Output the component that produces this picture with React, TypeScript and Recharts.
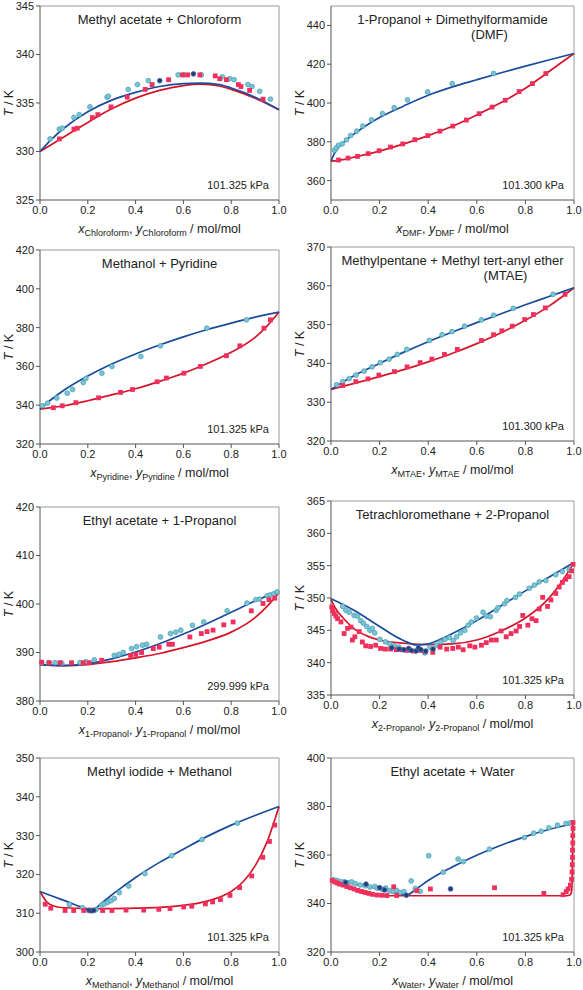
import { ComposedChart, Line, ReferenceLine, Scatter, XAxis, YAxis } from "recharts";

type Pt = [number, number];

const FONT = '"Liberation Sans", Arial, Helvetica, sans-serif';
const BLUE = "#1a4c9c";
const RED = "#d3162a";
const CYAN = "#7cc4d4";
const CYAN_EDGE = "#4aa3b8";
const PINK = "#f0305c";
const NAVY = "#1f3c7a";

const xTicks = [0, 0.2, 0.4, 0.6, 0.8, 1];

// Methyl acetate + Chloroform
const p1Dew: Pt[] = [[0, 330.0], [0.05, 331.3], [0.1, 332.4], [0.2, 334.1], [0.3, 335.3], [0.4, 336.1], [0.5, 336.7], [0.6, 337.0], [0.67, 337.05], [0.75, 336.9], [0.8, 336.55], [0.9, 335.6], [1, 334.3]];
const p1Bub: Pt[] = [[0, 330.0], [0.1, 331.5], [0.2, 333.0], [0.3, 334.4], [0.4, 335.5], [0.5, 336.3], [0.6, 336.8], [0.67, 336.95], [0.75, 336.75], [0.8, 336.4], [0.9, 335.5], [1, 334.3]];
const p1Vap: Pt[] = [[0.042, 331.3], [0.081, 332.3], [0.093, 332.4], [0.142, 333.5], [0.164, 333.8], [0.209, 334.6], [0.281, 335.6], [0.286, 335.7], [0.369, 336.4], [0.408, 336.9], [0.453, 337.3], [0.578, 337.9], [0.602, 337.9], [0.675, 337.9], [0.763, 337.7], [0.794, 337.5], [0.812, 337.4], [0.87, 336.9], [0.887, 336.7], [0.919, 336.2], [0.964, 335.4]];
const p1Liq: Pt[] = [[0.081, 331.3], [0.142, 332.3], [0.156, 332.4], [0.219, 333.5], [0.242, 333.8], [0.297, 334.6], [0.365, 335.6], [0.44, 336.4], [0.469, 336.9], [0.538, 337.4], [0.596, 337.9], [0.618, 337.9], [0.669, 337.9], [0.733, 337.8], [0.752, 337.5], [0.78, 337.4], [0.83, 336.9], [0.841, 336.7], [0.877, 336.3], [0.933, 335.4]];
const p1Navy: Pt[] = [[0.501, 337.3], [0.642, 338.0]];

// 1-Propanol + DMF
const p2Dew: Pt[] = [[0, 370], [0.01, 373], [0.03, 377], [0.05, 379.5], [0.1, 384.5], [0.15, 388.8], [0.2, 392.5], [0.3, 398.5], [0.4, 404], [0.5, 408.3], [0.6, 412], [0.7, 415.6], [0.8, 419], [0.9, 422.3], [1, 425.5]];
const p2Bub: Pt[] = [[0, 370], [0.05, 370.8], [0.1, 372.2], [0.2, 375.2], [0.3, 378.9], [0.4, 383.2], [0.5, 388], [0.6, 393.8], [0.7, 400.2], [0.8, 407.6], [0.9, 416.5], [1, 425.5]];
const p2Vap: Pt[] = [[0.014, 375.6], [0.022, 376.8], [0.031, 378.2], [0.046, 378.9], [0.064, 381], [0.081, 383.2], [0.106, 385.5], [0.131, 388.1], [0.167, 391.3], [0.212, 394.5], [0.26, 397.6], [0.315, 401.6], [0.398, 405.7], [0.499, 410], [0.669, 415.2]];
const p2Liq: Pt[] = [[0.031, 370.6], [0.07, 371.6], [0.109, 372.5], [0.153, 373.9], [0.198, 375.4], [0.245, 377.3], [0.295, 378.9], [0.345, 381.1], [0.398, 383.2], [0.448, 385.5], [0.501, 388.1], [0.557, 391.2], [0.61, 394.5], [0.663, 397.9], [0.717, 401.4], [0.774, 405.9], [0.829, 410], [0.884, 415.2]];

// Methanol + Pyridine
const p3Dew: Pt[] = [[0, 338], [0.05, 343.2], [0.1, 347.7], [0.2, 355], [0.3, 361.2], [0.4, 366.4], [0.5, 371], [0.6, 375.2], [0.7, 379], [0.8, 382.3], [0.9, 385.4], [1, 388]];
const p3Bub: Pt[] = [[0, 338], [0.1, 339.7], [0.2, 342.3], [0.3, 345.3], [0.4, 348.5], [0.5, 352.3], [0.6, 356.5], [0.7, 361.5], [0.8, 367.3], [0.9, 375], [0.95, 380.8], [1, 388]];
const p3Vap: Pt[] = [[0.011, 339.7], [0.032, 341.1], [0.07, 343.7], [0.114, 346.2], [0.136, 348.1], [0.181, 351.7], [0.192, 353.8], [0.259, 356.5], [0.301, 360], [0.422, 365.1], [0.504, 370.6], [0.698, 379.7], [0.864, 384.0]];
const p3Liq: Pt[] = [[0.056, 338.7], [0.093, 339.7], [0.15, 341.3], [0.245, 343.8], [0.337, 346.6], [0.387, 348.1], [0.49, 352.1], [0.529, 354], [0.602, 356.5], [0.671, 360], [0.78, 365.5], [0.836, 370.6], [0.937, 379.7], [0.964, 384]];

// Methylpentane + MTAE
const p4Dew: Pt[] = [[0, 333.3], [0.1, 337], [0.2, 340], [0.3, 342.9], [0.4, 345.6], [0.5, 348.1], [0.6, 350.5], [0.7, 352.8], [0.8, 355.1], [0.9, 357.3], [1, 359.5]];
const p4Bub: Pt[] = [[0, 333.3], [0.1, 334.9], [0.2, 336.6], [0.3, 338.4], [0.4, 340.4], [0.5, 342.6], [0.6, 345.1], [0.7, 347.9], [0.8, 351.1], [0.9, 354.9], [1, 359.5]];
const p4Vap: Pt[] = [[0.023, 334.5], [0.048, 335.3], [0.075, 336.1], [0.103, 337], [0.136, 338], [0.169, 339.1], [0.203, 340.2], [0.239, 341.1], [0.273, 342.3], [0.312, 343.6], [0.405, 345.9], [0.457, 347.4], [0.498, 348.2], [0.55, 349.6], [0.619, 351.2], [0.669, 352.4], [0.75, 354.2], [0.914, 357.8]];
const p4Liq: Pt[] = [[0.048, 334.3], [0.102, 335.3], [0.152, 336], [0.197, 337], [0.261, 337.9], [0.313, 339.1], [0.367, 340.2], [0.415, 341.1], [0.467, 342.3], [0.52, 343.6], [0.619, 345.9], [0.669, 347.4], [0.703, 348.4], [0.746, 349.6], [0.797, 351.3], [0.833, 352.6], [0.882, 354.3], [0.963, 357.8]];

// Ethyl acetate + 1-Propanol
const p5Dew: Pt[] = [[0, 387.5], [0.1, 387.3], [0.2, 387.7], [0.3, 388.7], [0.4, 390.1], [0.5, 391.8], [0.6, 393.8], [0.7, 396], [0.8, 398.3], [0.9, 400.6], [1, 402.7]];
const p5Bub: Pt[] = [[0, 387.5], [0.1, 387.3], [0.2, 387.5], [0.3, 388.1], [0.4, 388.9], [0.5, 389.8], [0.6, 391], [0.7, 392.4], [0.8, 394.2], [0.9, 397.2], [0.95, 399.5], [1, 402.4]];
const p5Vap: Pt[] = [[0.007, 387.9], [0.035, 387.9], [0.063, 387.9], [0.091, 387.8], [0.167, 387.9], [0.192, 388.1], [0.227, 388.5], [0.311, 389.4], [0.33, 389.6], [0.348, 390], [0.383, 390.8], [0.404, 391.2], [0.429, 391.5], [0.446, 391.7], [0.504, 393.2], [0.546, 393.9], [0.568, 394.2], [0.589, 394.6], [0.638, 395.6], [0.685, 396.3], [0.783, 398.6], [0.866, 400.2], [0.903, 400.9], [0.919, 401], [0.951, 401.7], [0.964, 401.9], [0.978, 402.1], [0.992, 402.5]];
const p5Liq: Pt[] = [[0.007, 388], [0.039, 387.9], [0.084, 387.9], [0.132, 387.9], [0.181, 387.9], [0.206, 387.9], [0.258, 388.4], [0.379, 389.4], [0.401, 389.6], [0.425, 390], [0.474, 390.8], [0.499, 391.1], [0.539, 391.7], [0.554, 391.7], [0.627, 393.2], [0.675, 393.9], [0.699, 394.3], [0.724, 394.6], [0.769, 395.7], [0.808, 396.3], [0.884, 398.6], [0.933, 400.1], [0.958, 400.9], [0.982, 401.2]];

// Tetrachloromethane + 2-Propanol
const p6Dew: Pt[] = [[0, 349.9], [0.05, 349.0], [0.1, 348.0], [0.15, 346.8], [0.2, 345.6], [0.25, 344.4], [0.3, 343.4], [0.35, 342.75], [0.4, 342.9], [0.45, 343.6], [0.5, 344.5], [0.6, 346.5], [0.7, 348.8], [0.8, 351.1], [0.9, 353.3], [1, 355.5]];
const p6Bub: Pt[] = [[0, 349.8], [0.02, 348.3], [0.05, 346.9], [0.1, 345.1], [0.15, 344.1], [0.2, 343.5], [0.3, 343.0], [0.4, 342.8], [0.5, 342.9], [0.6, 343.5], [0.7, 344.9], [0.8, 346.9], [0.9, 350.1], [0.95, 352.5], [1, 355.5]];
const p6Vap: Pt[] = [[0.048, 348.7], [0.061, 348.1], [0.075, 347.8], [0.095, 347.3], [0.109, 347.2], [0.122, 346.5], [0.133, 346.1], [0.147, 345.6], [0.16, 345], [0.17, 345.3], [0.18, 344.6], [0.201, 343.6], [0.224, 343.2], [0.242, 342.9], [0.261, 342.6], [0.279, 342.4], [0.386, 341.5], [0.408, 342.4], [0.435, 342.7], [0.452, 343.2], [0.469, 343.6], [0.487, 343.9], [0.503, 343.4], [0.517, 344], [0.533, 344.6], [0.551, 345], [0.565, 345.8], [0.578, 346.3], [0.599, 346.9], [0.626, 347.8], [0.639, 347.2], [0.656, 347.1], [0.68, 348.1], [0.687, 348.5], [0.714, 349.1], [0.724, 349.6], [0.759, 350.1], [0.776, 350.6], [0.816, 351.5], [0.837, 352], [0.857, 352.5], [0.884, 352.7], [0.925, 353.6], [0.952, 354.1], [0.98, 354.4]];
const p6Liq: Pt[] = [[0.003, 348.6], [0.007, 348], [0.014, 347.6], [0.02, 347.2], [0.027, 346.8], [0.041, 346.3], [0.054, 344.5], [0.068, 345.3], [0.082, 345.5], [0.088, 343.5], [0.098, 344], [0.116, 344.8], [0.129, 343.2], [0.143, 342.6], [0.163, 342.5], [0.184, 342.7], [0.204, 342.2], [0.224, 342.1], [0.245, 342.1], [0.269, 342], [0.293, 342], [0.313, 341.9], [0.34, 341.8], [0.367, 341.9], [0.388, 341.7], [0.419, 341.6], [0.449, 342.4], [0.476, 342.1], [0.501, 342.2], [0.524, 342.4], [0.544, 342], [0.571, 342.6], [0.592, 342.4], [0.619, 342.7], [0.639, 343.1], [0.66, 343.5], [0.68, 343.5], [0.7, 344.9], [0.721, 344], [0.741, 344.5], [0.762, 344.9], [0.776, 345.6], [0.789, 347.3], [0.81, 345.8], [0.827, 346.8], [0.844, 346.5], [0.857, 348.3], [0.871, 350.1], [0.891, 348.7], [0.905, 349.7], [0.925, 350.7], [0.939, 351.7], [0.952, 352.4], [0.966, 352.9], [0.98, 353.3], [0.99, 354.2], [0.996, 355.2]];
const p6Navy: Pt[] = [[0.25, 342.3], [0.28, 342.1], [0.3, 342.0], [0.32, 342.2], [0.33, 341.9], [0.35, 341.8], [0.36, 342.3], [0.37, 342.0], [0.39, 341.8], [0.42, 342.1]];

// Methyl iodide + Methanol
const p7Dew: Pt[] = [[0, 315.6], [0.1, 313.3], [0.2, 311.0], [0.22, 310.7], [0.25, 312.2], [0.3, 314.7], [0.35, 317], [0.4, 319.2], [0.5, 323.1], [0.6, 326.5], [0.7, 329.8], [0.8, 332.7], [0.9, 335.2], [1, 337.5]];
const p7Bub: Pt[] = [[0, 315.6], [0.03, 312.8], [0.06, 311.8], [0.1, 311.4], [0.2, 311.2], [0.3, 311.2], [0.4, 311.3], [0.5, 311.5], [0.6, 312], [0.7, 313.1], [0.75, 314.1], [0.8, 315.6], [0.85, 318.1], [0.9, 322.2], [0.95, 328.4], [1, 337.5]];
const p7Vap: Pt[] = [[0.123, 312.2], [0.178, 311.4], [0.234, 310.9], [0.258, 312.1], [0.269, 312.4], [0.283, 312.8], [0.297, 313.2], [0.311, 313.8], [0.332, 315.3], [0.371, 317.0], [0.439, 320.2], [0.551, 324.8], [0.678, 329.0], [0.826, 333.2]];
const p7Liq: Pt[] = [[0.022, 312.3], [0.045, 311.3], [0.105, 310.7], [0.141, 310.7], [0.183, 310.7], [0.262, 310.7], [0.301, 310.7], [0.36, 310.8], [0.434, 310.8], [0.497, 311], [0.544, 311.2], [0.601, 311.6], [0.635, 311.8], [0.692, 312.4], [0.722, 312.9], [0.755, 313.5], [0.795, 314.6], [0.835, 316.6], [0.886, 319.6], [0.932, 324.4], [0.96, 328.5], [0.982, 332.7]];
const p7Navy: Pt[] = [[0.205, 310.7], [0.215, 310.6], [0.225, 310.7]];

// Ethyl acetate + Water
const p8Dew: Pt[] = [[0, 350], [0.1, 348.1], [0.2, 346], [0.28, 344.2], [0.31, 343.4], [0.35, 345.9], [0.4, 349.5], [0.45, 352.5], [0.5, 355.1], [0.6, 359.9], [0.7, 364], [0.8, 367.6], [0.9, 370.6], [1, 373]];
const p8Bub: Pt[] = [[0, 349.6], [0.05, 347.3], [0.1, 345.3], [0.15, 343.8], [0.18, 343.3], [0.2, 343.2], [0.5, 343.2], [0.97, 343.2], [0.985, 343.6], [0.99, 345], [0.993, 355], [0.995, 373.5]];
const p8Vap: Pt[] = [[0.01, 349.8], [0.025, 349.5], [0.04, 349.0], [0.055, 348.9], [0.07, 348.6], [0.085, 348.9], [0.1, 348.2], [0.12, 347.6], [0.14, 347.3], [0.16, 346.8], [0.18, 347.0], [0.19, 346.3], [0.21, 345.9], [0.225, 346.4], [0.24, 345.3], [0.255, 344.9], [0.27, 345.4], [0.285, 344.5], [0.3, 344.9], [0.33, 349.3], [0.347, 346.2], [0.367, 345.0], [0.402, 359.7], [0.462, 352.9], [0.523, 358.3], [0.545, 357.3], [0.652, 362.4], [0.796, 367.2], [0.834, 369], [0.865, 369.8], [0.897, 371.2], [0.932, 372.3], [0.967, 373], [0.985, 373.2]];
const p8Liq: Pt[] = [[0.005, 349.5], [0.015, 348.9], [0.025, 348.5], [0.035, 348.0], [0.05, 347.6], [0.065, 347.0], [0.08, 346.5], [0.095, 346.0], [0.11, 345.4], [0.125, 345.0], [0.14, 344.6], [0.155, 344.2], [0.17, 343.8], [0.19, 343.5], [0.21, 343.4], [0.23, 343.3], [0.258, 346.9], [0.27, 343.3], [0.353, 345.3], [0.409, 346.0], [0.673, 346.5], [0.876, 344.2], [0.955, 343.6], [0.968, 344.9], [0.976, 346.0], [0.985, 347.6], [0.99, 350], [0.992, 353], [0.993, 356], [0.994, 359], [0.994, 362], [0.995, 365], [0.995, 368], [0.996, 371], [0.996, 373.4]];
const p8Navy: Pt[] = [[0.06, 348.7], [0.144, 348.0], [0.2, 346.5], [0.22, 345.6], [0.31, 343.4], [0.492, 346.0]];

const toRows = (pts: Pt[]) => pts.map(([x, t]) => ({ x, t }));

const circle = (fill: string, stroke: string) => (p: any) => (
  <circle cx={p.cx} cy={p.cy} r={2.4} fill={fill} stroke={stroke} strokeWidth={0.8} />
);
const square = (p: any) => <rect x={p.cx - 2.4} y={p.cy - 2.4} width={4.8} height={4.8} fill={PINK} />;

interface PanelProps {
  col: 0 | 1;
  plotTop: number;
  title: string;
  title2?: string;
  title2Dx?: number;
  sub: string;
  yDomain: [number, number];
  yTicks: number[];
  pressure: string;
  dew: Pt[];
  bubble: Pt[];
  vap: Pt[];
  liq: Pt[];
  navy?: Pt[];
}

const W = 291;
const H = 245;
const AXIS_H = 45;
const Y_W = 40;
const TOP = 6;

function Panel(props: PanelProps) {
  const left = props.col === 0 ? 0 : 291;
  const mr = props.col === 0 ? 12 : 8;
  const plotW = W - Y_W - mr;
  const plotH = H - TOP - AXIS_H;
  const cx = Y_W + plotW / 2;
  const cy = TOP + plotH / 2;
  const tick = { fontSize: 11, fill: "#222", fontFamily: FONT };

  const xLabel = () => (
    <text x={cx} y={TOP + plotH + 33} textAnchor="middle" fontSize={12.5} fill="#222" fontFamily={FONT}>
      <tspan fontStyle="italic">x</tspan>
      <tspan fontSize={9} dy={3}>{props.sub}</tspan>
      <tspan dy={-3}>, </tspan>
      <tspan fontStyle="italic">y</tspan>
      <tspan fontSize={9} dy={3}>{props.sub}</tspan>
      <tspan dy={-3}> / mol/mol</tspan>
    </text>
  );
  const yLabel = () => (
    <text x={9} y={cy} transform={`rotate(-90, 9, ${cy})`} textAnchor="middle" dominantBaseline="central" fontSize={12.5} fill="#222" fontFamily={FONT}>
      <tspan fontStyle="italic">T</tspan>
      <tspan> / K</tspan>
    </text>
  );

  return (
    <div style={{ position: "absolute", left, top: props.plotTop - TOP, width: W, height: H }}>
      <ComposedChart width={W} height={H} margin={{ top: TOP, right: mr, bottom: 0, left: 0 }}>
        <XAxis
          type="number"
          dataKey="x"
          domain={[0, 1]}
          ticks={xTicks}
          interval={0}
          tickFormatter={(v: number) => v.toFixed(1)}
          height={AXIS_H}
          stroke="#555"
          tickSize={4}
          tick={tick}
          label={{ content: xLabel }}
        />
        <YAxis
          type="number"
          dataKey="t"
          domain={props.yDomain}
          ticks={props.yTicks}
          interval={0}
          allowDataOverflow
          width={Y_W}
          stroke="#555"
          tickSize={4}
          tick={tick}
          label={{ content: yLabel }}
        />
        <ReferenceLine y={props.yDomain[1]} stroke="#9a9a9a" />
        <ReferenceLine x={1} stroke="#9a9a9a" />
        <Scatter data={toRows(props.vap)} shape={circle(CYAN, CYAN_EDGE)} isAnimationActive={false} />
        <Scatter data={toRows(props.liq)} shape={square} isAnimationActive={false} />
        {props.navy && <Scatter data={toRows(props.navy)} shape={circle(NAVY, "#4f6fa8")} isAnimationActive={false} />}
        <Line data={toRows(props.bubble)} dataKey="t" type="monotone" stroke={RED} strokeWidth={1.7} dot={false} isAnimationActive={false} />
        <Line data={toRows(props.dew)} dataKey="t" type="monotone" stroke={BLUE} strokeWidth={1.7} dot={false} isAnimationActive={false} />
      </ComposedChart>
      <svg width={W} height={H} style={{ position: "absolute", left: 0, top: 0, pointerEvents: "none" }}>
        <text x={cx} y={TOP + 18} textAnchor="middle" fontSize={13} fill="#222" fontFamily={FONT}>
          {props.title}
        </text>
        {props.title2 && (
          <text x={cx + (props.title2Dx ?? 0)} y={TOP + 33} textAnchor="middle" fontSize={13} fill="#222" fontFamily={FONT}>
            {props.title2}
          </text>
        )}
        <text x={Y_W + plotW - 10} y={TOP + plotH - 11} textAnchor="end" fontSize={11} fill="#222" fontFamily={FONT}>
          {props.pressure}
        </text>
      </svg>
    </div>
  );
}

export default function App() {
  return (
    <div style={{ position: "absolute", left: 0, top: 0, width: 583, height: 990, background: "#fff" }}>
      <Panel col={0} plotTop={6} title="Methyl acetate + Chloroform" sub="Chloroform" yDomain={[325, 345]} yTicks={[325, 330, 335, 340, 345]} pressure="101.325 kPa" dew={p1Dew} bubble={p1Bub} vap={p1Vap} liq={p1Liq} navy={p1Navy} />
      <Panel col={1} plotTop={6} title="1-Propanol + Dimethylformamide" title2="(DMF)" title2Dx={37} sub="DMF" yDomain={[350, 450]} yTicks={[360, 380, 400, 420, 440]} pressure="101.300 kPa" dew={p2Dew} bubble={p2Bub} vap={p2Vap} liq={p2Liq} />
      <Panel col={0} plotTop={250} title="Methanol + Pyridine" sub="Pyridine" yDomain={[320, 420]} yTicks={[320, 340, 360, 380, 400, 420]} pressure="101.325 kPa" dew={p3Dew} bubble={p3Bub} vap={p3Vap} liq={p3Liq} />
      <Panel col={1} plotTop={247} title="Methylpentane + Methyl tert-anyl ether" title2="(MTAE)" title2Dx={53} sub="MTAE" yDomain={[320, 370]} yTicks={[320, 330, 340, 350, 360, 370]} pressure="101.300 kPa" dew={p4Dew} bubble={p4Bub} vap={p4Vap} liq={p4Liq} />
      <Panel col={0} plotTop={507} title="Ethyl acetate + 1-Propanol" sub="1-Propanol" yDomain={[380, 420]} yTicks={[380, 390, 400, 410, 420]} pressure="299.999 kPa" dew={p5Dew} bubble={p5Bub} vap={p5Vap} liq={p5Liq} />
      <Panel col={1} plotTop={501} title="Tetrachloromethane + 2-Propanol" sub="2-Propanol" yDomain={[335, 365]} yTicks={[335, 340, 345, 350, 355, 360, 365]} pressure="101.325 kPa" dew={p6Dew} bubble={p6Bub} vap={p6Vap} liq={p6Liq} navy={p6Navy} />
      <Panel col={0} plotTop={758} title="Methyl iodide + Methanol" sub="Methanol" yDomain={[300, 350]} yTicks={[300, 310, 320, 330, 340, 350]} pressure="101.325 kPa" dew={p7Dew} bubble={p7Bub} vap={p7Vap} liq={p7Liq} navy={p7Navy} />
      <Panel col={1} plotTop={758} title="Ethyl acetate + Water" sub="Water" yDomain={[320, 400]} yTicks={[320, 340, 360, 380, 400]} pressure="101.325 kPa" dew={p8Dew} bubble={p8Bub} vap={p8Vap} liq={p8Liq} navy={p8Navy} />
    </div>
  );
}
